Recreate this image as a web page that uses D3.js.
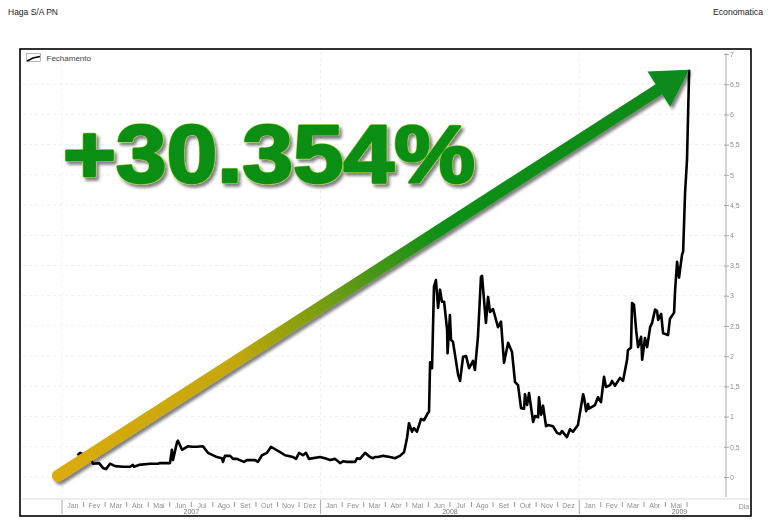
<!DOCTYPE html>
<html>
<head>
<meta charset="utf-8">
<script src="https://cdn.jsdelivr.net/npm/d3@7/dist/d3.min.js"></script>
<style>html,body{margin:0;padding:0;background:#fff}svg{display:block}text{font-family:"Liberation Sans",Arial,sans-serif}</style>
</head>
<body>
<div id="chart"></div>
<script>
const titleLeft = "Haga S/A PN";
const titleRight = "Economatica";
const seriesName = "Fechamento";
const callout = "+30.354%";
const monthNames = ["Jan","Fev","Mar","Abr","Mai","Jun","Jul","Ago","Set","Out","Nov","Dez"];
const years = [{label:"2007",start:0,months:12},{label:"2008",start:12,months:12},{label:"2009",start:24,months:5}];
const yTicks = [0,0.5,1,1.5,2,2.5,3,3.5,4,4.5,5,5.5,6,6.5,7];
// time, in months since Jan 2007
const monthPos = [.72,.84,1.11,1.3,1.39,1.44,1.72,1.9,2.04,2.23,2.46,2.83,3.16,3.29,3.34,3.57,4.08,4.45,4.55,5.01,5.1,5.15,5.34,5.38,5.57,5.85,6.03,6.26,6.54,6.77,7.19,7.42,7.47,7.56,7.8,7.94,8.12,8.44,8.58,8.96,9.09,9.28,9.51,9.7,9.79,10.12,10.35,10.72,10.86,11,11.18,11.32,11.46,11.97,12.2,12.44,12.67,12.9,13.04,13.23,13.6,13.69,13.83,14.06,14.29,14.43,14.52,14.66,14.9,15.22,15.45,15.68,15.87,15.96,16.01,16.1,16.24,16.33,16.47,16.66,16.8,16.98,17.03,17.08,17.17,17.26,17.35,17.45,17.54,17.63,17.73,17.87,17.89,18,18.05,18.14,18.38,18.47,18.61,18.75,18.89,19.07,19.16,19.3,19.44,19.49,19.67,19.77,19.86,20,20.23,20.37,20.51,20.7,20.88,21.02,21.16,21.3,21.44,21.48,21.58,21.67,21.86,21.95,22.09,22.13,22.23,22.32,22.46,22.55,22.78,22.97,23.11,23.2,23.43,23.57,23.71,23.94,24.08,24.18,24.22,24.32,24.41,24.45,24.73,24.87,25.01,25.15,25.24,25.43,25.52,25.66,25.89,26.03,26.22,26.26,26.4,26.45,26.54,26.64,26.73,26.87,26.92,27.05,27.15,27.29,27.38,27.52,27.61,27.66,27.8,27.89,28.12,28.21,28.4,28.45,28.54,28.63,28.77,28.82,28.91,29,29.1];
const closes = [.36,.4,.35,.3,.26,.22,.23,.15,.13,.22,.18,.17,.17,.2,.17,.2,.22,.22,.23,.23,.45,.28,.58,.6,.45,.51,.5,.5,.51,.4,.33,.31,.25,.35,.35,.3,.3,.25,.28,.28,.25,.36,.4,.5,.48,.41,.36,.33,.3,.4,.36,.4,.3,.33,.31,.28,.3,.23,.26,.25,.25,.31,.3,.4,.33,.31,.33,.33,.35,.33,.31,.35,.41,.56,.65,.89,.75,.81,.75,.96,.94,1.06,1.08,1.9,1.8,3.15,3.26,2.8,3.1,2.9,2.9,2.43,2.05,2.68,2.27,2.24,1.69,1.59,1.99,2,1.8,1.92,1.77,2.32,3.31,3.33,2.55,2.98,2.73,2.78,2.48,2.57,1.89,2.22,2.07,1.57,1.52,1.14,1.13,1.37,1.19,1.39,.91,1.01,.99,1.32,1.03,1.18,.84,.86,.84,.73,.71,.76,.66,.79,.75,.86,1.16,1.37,1.32,1.09,1.21,1.13,1.19,1.32,1.24,1.66,1.49,1.52,1.59,1.51,1.64,1.59,1.94,2.1,2.14,2.88,2.85,2.43,2.15,2.32,1.94,2.3,2.15,2.48,2.55,2.77,2.75,2.6,2.7,2.38,2.35,2.62,2.72,3.1,3.56,3.3,3.68,3.73,4.7,5.25,6.74];
const arrowStart = {month:-0.19, value:0.02};

const W = 773, H = 526;
const svg = d3.select("#chart").append("svg").attr("width",W).attr("height",H);
const x = d3.scaleLinear().domain([0,29]).range([62,687]);
const y = d3.scaleLinear().domain([0,7]).range([477,54]);
const data = monthPos.map((m,i)=>({m,v:closes[i]}));
const grey = "#8f8f8f";

const defs = svg.append("defs");
const ds = defs.append("filter").attr("id","shadow").attr("x","-10%").attr("y","-10%").attr("width","125%").attr("height","125%");
ds.append("feDropShadow").attr("dx",2.5).attr("dy",3).attr("stdDeviation",1.8).attr("flood-color","#000").attr("flood-opacity",.5);
const soft = defs.append("filter").attr("id","soft");
soft.append("feGaussianBlur").attr("stdDeviation",.35);

// Titles
svg.append("text").attr("x",8).attr("y",15).attr("font-size",9).attr("textLength",50).attr("lengthAdjust","spacingAndGlyphs").attr("fill","#222").text(titleLeft);
svg.append("text").attr("x",713).attr("y",15).attr("font-size",9).attr("textLength",50).attr("lengthAdjust","spacingAndGlyphs").attr("fill","#222").text(titleRight);

// Grid
const grid = svg.append("g").attr("stroke","#f3eeee").attr("stroke-width",1).attr("stroke-dasharray","3 3");
grid.selectAll("line.h").data(yTicks.filter(d=>d<7)).join("line").attr("class","h")
  .attr("x1",23).attr("x2",726).attr("y1",d=>y(d)).attr("y2",d=>y(d));
grid.selectAll("line.v").data(years).join("line").attr("class","v")
  .attr("x1",d=>x(d.start)).attr("x2",d=>x(d.start)).attr("y1",52).attr("y2",499);

// Y axis
const yAxis = d3.axisRight(y).tickValues(yTicks).tickSize(3).tickPadding(1)
  .tickFormat(d=>String(d).replace(".",","));
const ya = svg.append("g").attr("transform","translate(726,0)").attr("filter","url(#soft)").call(yAxis);
ya.select(".domain").attr("d","M0,53V497").attr("stroke","#aaa");
ya.selectAll(".tick line").attr("stroke","#aaa").attr("x1",-2);
ya.selectAll(".tick text").attr("font-size",7).attr("fill",grey);

// X axis band
svg.append("line").attr("x1",22).attr("x2",749).attr("y1",499).attr("y2",499).attr("stroke","#dcdcdc").attr("stroke-width",1);
const months = years.flatMap(yr=>d3.range(yr.months).map(i=>({name:monthNames[i],pos:yr.start+i})));
const ax = svg.append("g").attr("font-size",7).attr("fill",grey).attr("filter","url(#soft)");
ax.selectAll("text.m").data(months).join("text").attr("class","m")
  .attr("x",d=>x(d.pos+.5)).attr("y",507.5).attr("text-anchor","middle").text(d=>d.name);
ax.selectAll("line.t").data(months.filter(d=>d.pos%12!==0).concat([{pos:29}])).join("line").attr("class","t")
  .attr("x1",d=>x(d.pos)).attr("x2",d=>x(d.pos)).attr("y1",502).attr("y2",507).attr("stroke","#999");
ax.selectAll("line.y").data(years).join("line").attr("class","y")
  .attr("x1",d=>x(d.start)).attr("x2",d=>x(d.start)).attr("y1",500).attr("y2",514).attr("stroke","#aaa");
ax.selectAll("text.y").data(years).join("text").attr("class","y")
  .attr("x",d=>x(d.start+(d.months===5?4.65:6))).attr("y",513.5).attr("text-anchor","middle").attr("fill","#777").text(d=>d.label);
ax.append("text").attr("x",744).attr("y",509).attr("text-anchor","middle").text("Dia");

// Series line
const line = d3.line().x(d=>x(d.m)).y(d=>y(d.v));
svg.append("path").datum(data).attr("d",line).attr("fill","none").attr("stroke","#000")
  .attr("stroke-width",2.6).attr("stroke-linejoin","round").attr("filter","url(#soft)");

// Legend
svg.append("rect").attr("x",26.5).attr("y",53.5).attr("width",14).attr("height",8).attr("fill","#fff").attr("stroke","#888").attr("stroke-width",.6);
svg.append("path").attr("d",d3.line()([[27,61],[33,58],[40,56.5]])).attr("fill","none").attr("stroke","#000").attr("stroke-width",1.6);
svg.append("text").attr("x",46.5).attr("y",61).attr("font-size",8).attr("fill","#444").text(seriesName);

// Arrow annotation: from the base of the run to the last close
const last = data[data.length-1];
const p0 = [x(arrowStart.month),y(arrowStart.value)], tip = [x(last.m),y(last.v)];
const len = Math.hypot(tip[0]-p0[0],tip[1]-p0[1]);
const ux = (tip[0]-p0[0])/len, uy = (tip[1]-p0[1])/len;
const headLen = 36, headHalf = 21, shaftW = 12;
const base = [tip[0]-ux*headLen, tip[1]-uy*headLen];
const grad = defs.append("linearGradient").attr("id","arrowGrad").attr("gradientUnits","userSpaceOnUse")
  .attr("x1",p0[0]).attr("y1",p0[1]).attr("x2",tip[0]).attr("y2",tip[1]);
[[0,"#dcab0b"],[.28,"#c4a70e"],[.6,"#109016"],[1,"#078a1a"]].forEach(s=>grad.append("stop").attr("offset",s[0]).attr("stop-color",s[1]));
const arrow = svg.append("g").attr("filter","url(#shadow)");
arrow.append("path").attr("d",d3.line()([p0,base])).attr("stroke","url(#arrowGrad)").attr("stroke-width",shaftW).attr("stroke-linecap","round").attr("fill","none");
arrow.append("path").attr("fill","#078a1a")
  .attr("d",d3.line()([tip,[base[0]-uy*headHalf,base[1]+ux*headHalf],[base[0]+uy*headHalf,base[1]-ux*headHalf]])+"Z");

// Callout: a light outline and shadow under a heavier green face
const calloutX = 63, calloutY = 182;
const calloutStyle = s => s.attr("x",calloutX).attr("y",calloutY).attr("font-size",81).attr("font-weight",700)
  .attr("textLength",412).attr("lengthAdjust","spacingAndGlyphs").attr("stroke-linejoin","round").text(callout);
svg.append("text").call(calloutStyle).attr("fill","#b4cf3c").attr("stroke","#b4cf3c").attr("stroke-width",3.4).attr("filter","url(#shadow)");
svg.append("text").call(calloutStyle).attr("fill","#0a8f14").attr("stroke","#0a8f14").attr("stroke-width",2.4);

// Frame
svg.append("rect").attr("x",20).attr("y",49).attr("width",731).attr("height",467).attr("fill","none").attr("stroke","#000").attr("stroke-width",1.6);
</script>
</body>
</html>
